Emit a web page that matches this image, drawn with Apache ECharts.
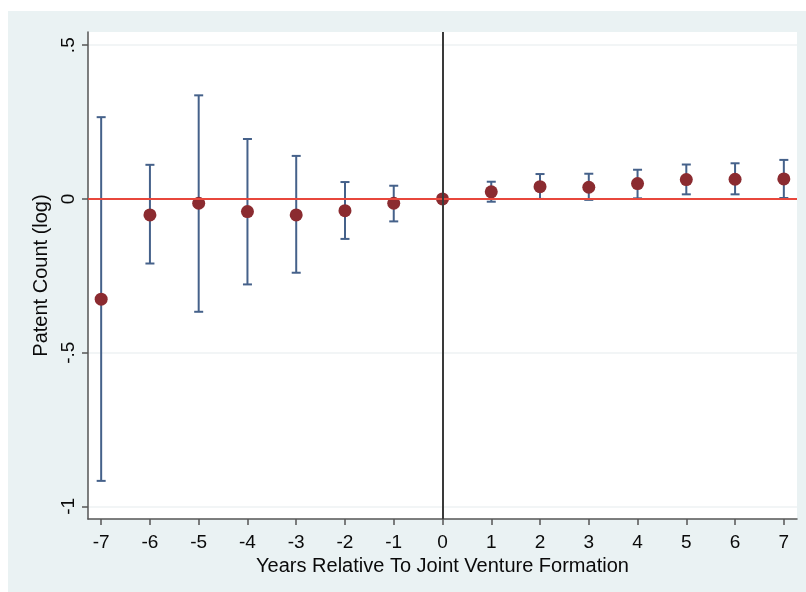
<!DOCTYPE html>
<html><head><meta charset="utf-8">
<script src="https://cdn.jsdelivr.net/npm/echarts@6/dist/echarts.min.js"></script>
<style>html,body{margin:0;padding:0;background:#fff}#c{width:806px;height:592px}</style>
</head><body><div id="c"></div>
<script>
const years = [-7,-6,-5,-4,-3,-2,-1,0,1,2,3,4,5,6,7];
const estimates = [-0.326,-0.052,-0.014,-0.041,-0.052,-0.038,-0.014,0,0.023,0.040,0.038,0.050,0.063,0.064,0.065];
const upper = [0.266,0.111,0.337,0.195,0.140,0.055,0.043,null,0.056,0.081,0.082,0.095,0.112,0.116,0.127];
const lower = [-0.917,-0.210,-0.367,-0.278,-0.240,-0.130,-0.073,null,-0.009,0.000,-0.003,0.002,0.015,0.015,0.003];
const yTicks = [-1,-0.5,0,0.5];
const yTickLabels = ['-1','-.5','0','.5'];
const xTicks = years;

const chart = echarts.init(document.getElementById('c'));
const font = 'Liberation Sans, Arial, Helvetica, sans-serif';
const ciData = years.map((y,i)=>[y,lower[i],upper[i]]).filter(d=>d[1]!==null);
chart.setOption({
  animation:false,
  backgroundColor:'#ffffff',
  graphic:[{type:'rect',z:-10,shape:{x:8,y:11,width:798,height:581},style:{fill:'#eaf2f3'}}],
  grid:{left:88,top:32,right:9,bottom:73,show:true,backgroundColor:'#ffffff',borderWidth:0},
  xAxis:{type:'value',min:-7.27,max:7.27,
    name:'Years Relative To Joint Venture Formation',nameLocation:'middle',nameGap:35,
    nameTextStyle:{fontFamily:font,fontSize:20,color:'#0a0a0a'},
    axisLine:{show:true,onZero:false,lineStyle:{color:'#555',width:1.5}},
    axisTick:{show:true,length:6,customValues:xTicks,lineStyle:{color:'#555',width:1.5}},
    axisLabel:{customValues:xTicks,fontFamily:font,fontSize:19,color:'#0a0a0a',margin:14,
      formatter:v=>String(v)},
    splitLine:{show:false}},
  yAxis:{type:'value',min:-1.041,max:0.543,
    name:'Patent Count (log)',nameLocation:'middle',nameGap:31,nameRotate:90,
    nameTextStyle:{fontFamily:font,fontSize:20,color:'#0a0a0a'},
    axisLine:{show:true,onZero:false,lineStyle:{color:'#555',width:1.5}},
    axisTick:{show:true,length:6,customValues:yTicks,lineStyle:{color:'#555',width:1.5}},
    axisLabel:{customValues:yTicks,rotate:90,fontFamily:font,fontSize:19,color:'#0a0a0a',margin:10,
      formatter:v=>{const i=yTicks.findIndex(t=>Math.abs(t-v)<1e-9);return i>=0?yTickLabels[i]:'';}},
    splitLine:{show:true,lineStyle:{color:'#eef2f3',width:1.5}}},
  series:[
    {type:'custom',z:3,data:ciData,renderItem:(params,api)=>{
      const x=api.value(0), lo=api.coord([x,api.value(1)]), hi=api.coord([x,api.value(2)]);
      const w=4.5, st={stroke:'#45618a',lineWidth:2};
      return {type:'group',children:[
        {type:'line',shape:{x1:lo[0],y1:lo[1],x2:hi[0],y2:hi[1]},style:st},
        {type:'line',shape:{x1:lo[0]-w,y1:lo[1],x2:lo[0]+w,y2:lo[1]},style:st},
        {type:'line',shape:{x1:hi[0]-w,y1:hi[1],x2:hi[0]+w,y2:hi[1]},style:st}]};
    }},
    {type:'scatter',z:4,symbol:'circle',symbolSize:13,data:years.map((y,i)=>[y,estimates[i]]),
      itemStyle:{color:'#8b2b30',opacity:1},
      markLine:{silent:true,symbol:'none',label:{show:false},animation:false,data:[
        {yAxis:0,lineStyle:{color:'#e8473c',width:2,type:'solid'}},
        {xAxis:0,lineStyle:{color:'#3a3a3a',width:2,type:'solid'}}]}}
  ]
});
</script></body></html>
